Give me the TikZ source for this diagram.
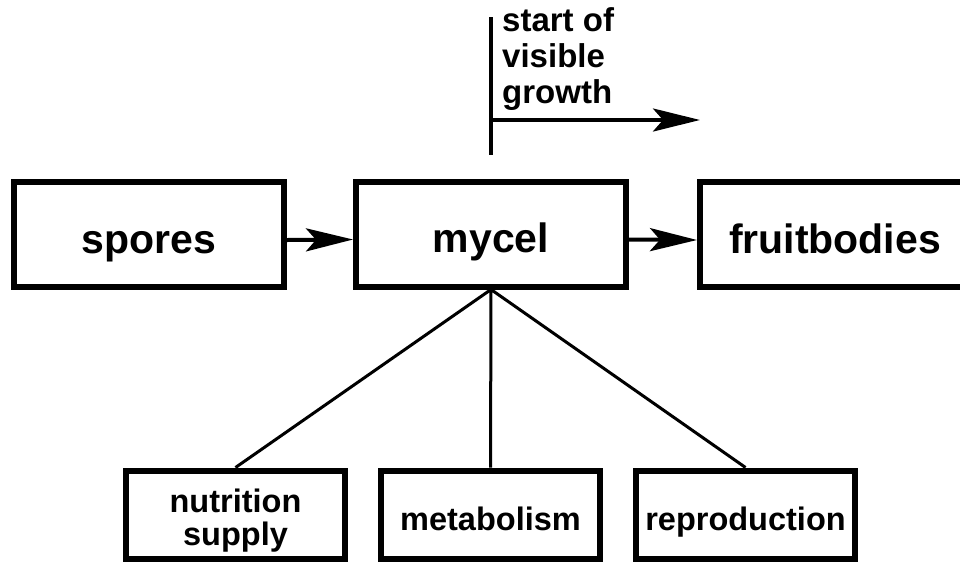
\documentclass[tikz,border=0pt]{standalone}
\usepackage{fontspec}
\setmainfont{Liberation Sans}
\usetikzlibrary{arrows.meta}

\begin{document}
\begin{tikzpicture}[x=1pt, y=-1pt,
    bigbox/.style={draw, line width=6pt, minimum width=270pt, minimum height=105pt, inner sep=0pt, text height=37pt, text depth=0pt, font=\fontsize{41}{44}\selectfont\bfseries},
    smallbox/.style={draw, line width=6pt, minimum width=219pt, minimum height=88pt, inner sep=0pt, align=center, text height=31pt, text depth=0pt, font=\fontsize{32.5}{33}\selectfont\bfseries},
    arr/.style={line width=4pt, -{Stealth[length=47pt, width=23pt, inset=10pt]}},
    twig/.style={line width=3pt}]
    \clip (0, 0) rectangle (960, 563);

    \node[bigbox] (spores) at (149, 234.5) {spores};
    \node[bigbox] (mycel) at (491, 234) {mycel};
    \node[bigbox] (fruitbodies) at (835, 234.5) {fruitbodies};

    \node[smallbox, text height=62pt] (nutrition) at (235.5, 514.5) {nutrition\\supply};
    \node[smallbox] (metabolism) at (490.5, 514.5) {metabolism};
    \node[smallbox] (reproduction) at (745.5, 514.5) {reproduction};

    \coordinate (mark_top) at (491, 17);
    \coordinate (mark_bot) at (491, 155);
    \coordinate (grow_from) at (491, 120);
    \coordinate (grow_to) at (700, 120);
    \node[anchor=base west, align=left, inner sep=0pt, font=\fontsize{33}{36}\selectfont\bfseries] (visible) at (502, 103) {start of\\visible\\growth};

    \draw
    (mark_top) -- (mark_bot) [line width=3.5pt];
    \draw[arr] (grow_from) -- (grow_to);
    \draw[arr] ([yshift=-5.5pt]spores.east) -- ([yshift=-5.5pt]mycel.west);
    \draw[arr] ([yshift=-5.5pt]mycel.east) -- ([yshift=-5.5pt]fruitbodies.west);
    \draw[twig]
    (mycel.south) -- (nutrition.north)
    (mycel.south) -- (metabolism.north)
    (mycel.south) -- (reproduction.north);

\end{tikzpicture}
\end{document}
